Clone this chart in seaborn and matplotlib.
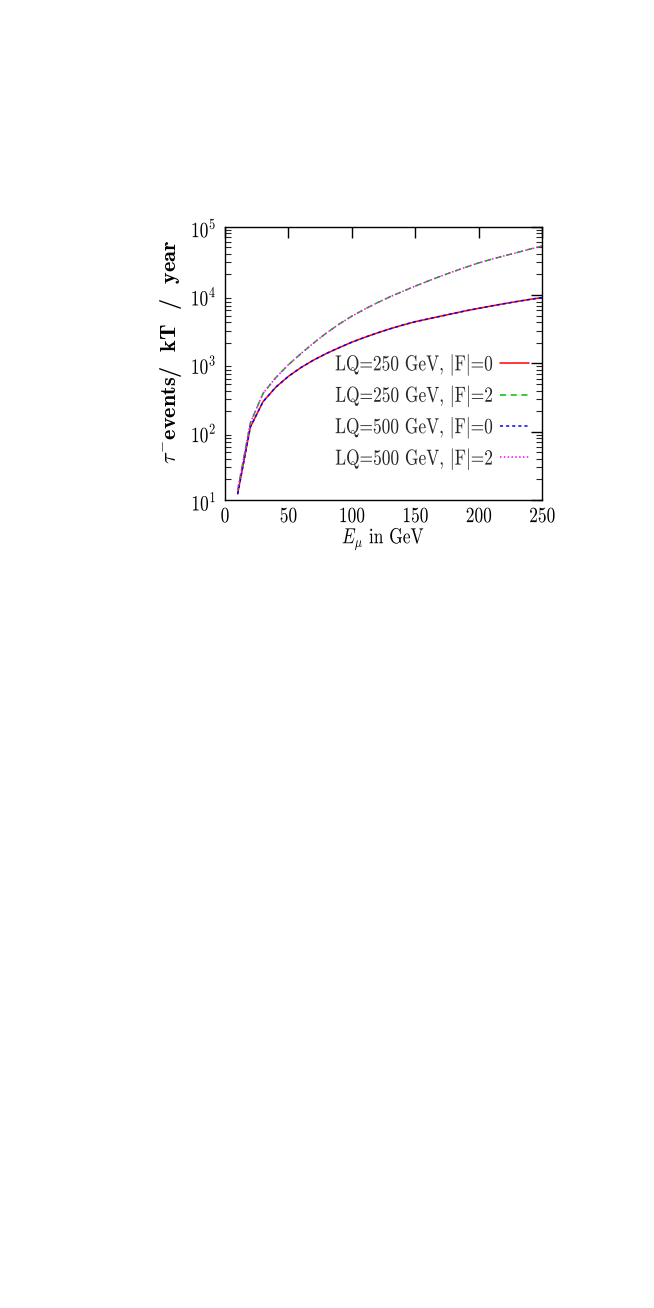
import math
import matplotlib
matplotlib.use('Agg')
import matplotlib.pyplot as plt
import matplotlib.ticker as mticker
import matplotlib.patheffects as pe
from matplotlib.transforms import Affine2D
import pandas as pd
import seaborn as sns

# Muon energy grid (GeV)
e_mu = [10, 20, 30, 40, 50, 60, 70, 80, 90, 100, 110, 120, 130,
        140, 150, 160, 170, 180, 190, 200, 210, 220, 230, 240, 250]

# tau- events / kT / year
lq250_f0 = [12.3, 117, 275, 447, 646, 871, 1122, 1396, 1698, 2042, 2399, 2786, 3199,
            3631, 4074, 4467, 4898, 5370, 5888, 6383, 6918, 7464, 8035, 8610, 9183]
lq250_f2 = [14, 135, 363, 617, 955, 1396, 1995, 2786, 3758, 4900, 6200, 7700, 9400,
            11300, 13500, 16000, 18840, 22030, 25590, 29500, 33340, 37410, 41690, 46770, 52000]
lq500_f0 = [12.3, 117, 275, 447, 646, 871, 1122, 1396, 1698, 2042, 2399, 2786, 3199,
            3631, 4074, 4467, 4898, 5370, 5888, 6383, 6918, 7464, 8035, 8610, 9183]
lq500_f2 = [14, 135, 363, 617, 955, 1396, 1995, 2786, 3758, 4900, 6200, 7700, 9400,
            11300, 13500, 16000, 18840, 22030, 25590, 29500, 33340, 37410, 41690, 46770, 52000]

labels = ['LQ=250 GeV, $|$F$|$=0',
          'LQ=250 GeV, $|$F$|$=2',
          'LQ=500 GeV, $|$F$|$=0',
          'LQ=500 GeV, $|$F$|$=2']
series = [lq250_f0, lq250_f2, lq500_f0, lq500_f2]
colors = ['#ff0000', '#00c000', '#0000ff', '#ff00ff']
dashes = [None, (4, 3), (2, 2), (1, 1.5)]


class Stretch(pe.AbstractPathEffect):
    # the reference page is stretched vertically, so stretch glyphs around their centre
    def __init__(self, sx=1.0, sy=1.0):
        super().__init__()
        self.sx, self.sy = sx, sy

    def draw_path(self, renderer, gc, tpath, affine, rgbFace=None):
        v = tpath.vertices
        cx = (v[:, 0].min() + v[:, 0].max()) / 2
        cy = (v[:, 1].min() + v[:, 1].max()) / 2
        tr = Affine2D().translate(-cx, -cy).scale(self.sx, self.sy).translate(cx, cy)
        renderer.draw_path(gc, tpath, tr + affine, rgbFace)


sns.set_theme(style='white')
plt.rcParams['mathtext.fontset'] = 'cm'
plt.rcParams['font.family'] = ['cmr10']
plt.rcParams['axes.formatter.use_mathtext'] = True
plt.rcParams['axes.unicode_minus'] = False

fig = plt.figure(figsize=(6.54, 13.08), dpi=100)
ax = fig.add_axes([0.344, 0.6177, 0.485, 0.209])

for vals, lab, col, ds in zip(series, labels, colors, dashes):
    df = pd.DataFrame({'E': e_mu, 'N': vals})
    sns.lineplot(data=df, x='E', y='N', ax=ax, color=col, lw=1.1, label=lab)
    if ds is not None:
        ax.lines[-1].set_dashes(ds)

ax.set_yscale('log')
ax.set_xlim(0, 250)
ax.set_ylim(10, 1e5)
ax.xaxis.set_major_locator(mticker.MultipleLocator(50))
ax.yaxis.set_major_locator(mticker.LogLocator(base=10, numticks=10))
ax.yaxis.set_minor_locator(mticker.LogLocator(base=10, subs=range(2, 10), numticks=20))
ax.yaxis.set_minor_formatter(mticker.NullFormatter())
ax.yaxis.set_major_formatter(mticker.FuncFormatter(lambda v, p: r'$10^{%d}$' % round(math.log10(v))))
ax.xaxis.set_major_formatter(mticker.FuncFormatter(lambda v, p: '%d' % v))

ax.tick_params(axis='both', which='major', direction='in', length=8, width=1,
               top=True, right=True, labelsize=12.5, colors='black')
ax.tick_params(axis='x', which='major', pad=6)
ax.tick_params(axis='y', which='major', pad=6)
ax.tick_params(axis='y', which='minor', direction='in', length=4, width=0.8,
               left=True, right=True)
for s in ax.spines.values():
    s.set_color('black')
    s.set_linewidth(1.0)

ax.set_xlabel(r'$E_{\mu}$ in GeV', fontsize=12.5, labelpad=4, color='black')
ax.set_ylabel(r'$\tau^{-}$events/  kT  /  year', fontsize=16, family='cmb10', color='black')
ax.yaxis.set_label_coords(-0.13, 0.542)

leg = ax.legend(loc='lower right', bbox_to_anchor=(0.985, 0.08), frameon=False,
                markerfirst=False, fontsize=12.5, handlelength=1.65, handletextpad=0.35,
                labelspacing=0.6, borderpad=0)

fig.canvas.draw()
vstretch = [Stretch(sy=1.25)]
for t in ax.get_xticklabels() + ax.get_yticklabels() + leg.get_texts():
    t.set_path_effects(vstretch)
ax.xaxis.label.set_path_effects(vstretch)

fig.savefig('out.png', dpi=100, facecolor='white')
